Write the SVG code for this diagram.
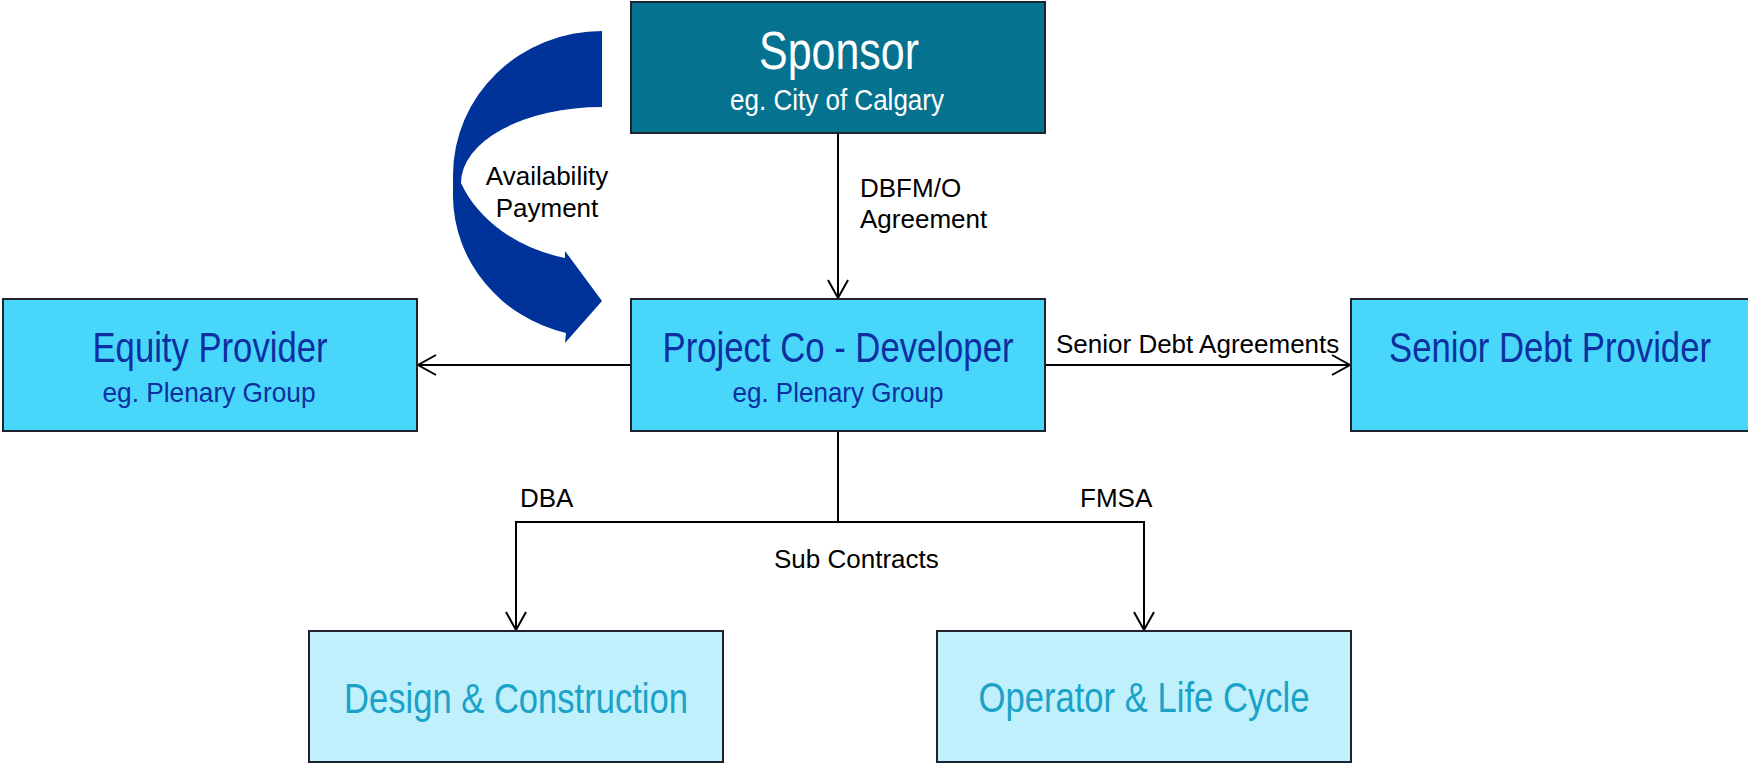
<svg xmlns="http://www.w3.org/2000/svg" width="1748" height="763" viewBox="0 0 1748 763">
<style>
.box{stroke:#1f2330;stroke-width:2}
.sponsor{fill:#05738f}
.mid{fill:#48d7fb}
.low{fill:#c0f0fc}
.t{font-family:"Liberation Sans",Arial,sans-serif;text-anchor:middle}
.tw{fill:#ffffff}
.tb{fill:#0d2f9f}
.tl{fill:#1aa2c8}
.lbl{font-family:"Liberation Sans",Arial,sans-serif;font-size:26px;fill:#000000}
.conn{stroke:#000000;stroke-width:2;fill:none}
</style>
<defs>
<marker id="arr" markerUnits="userSpaceOnUse" markerWidth="24" markerHeight="24" viewBox="-20 -12 22 24" refX="0" refY="0" orient="auto">
<path d="M -18 -10 L 0 0 L -18 10" fill="none" stroke="#000000" stroke-width="2"/>
</marker>
</defs>
<g id="payment-arrow">
<path d="M 602 31 A 149 144 0 0 0 453 175 L 453 197 A 149 142 0 0 0 566 333 L 565 343 L 602 301 L 565 251 L 565 258 A 150 120 0 0 1 461 183 A 141 76 0 0 1 602 107 Z" fill="#003399"/>
<text class="lbl" x="547" y="185" text-anchor="middle">Availability</text>
<text class="lbl" x="547" y="217" text-anchor="middle">Payment</text>
</g>
<g id="connectors">
<line class="conn" x1="838" y1="134" x2="838" y2="298" marker-end="url(#arr)"/>
<line class="conn" x1="631" y1="365" x2="418" y2="365" marker-end="url(#arr)"/>
<line class="conn" x1="1045" y1="365" x2="1350" y2="365" marker-end="url(#arr)"/>
<polyline class="conn" points="838,431 838,522 516,522 516,630" marker-end="url(#arr)"/>
<polyline class="conn" points="838,522 1144,522 1144,630" marker-end="url(#arr)"/>
<text class="lbl" x="860" y="197">DBFM/O</text>
<text class="lbl" x="860" y="228">Agreement</text>
<text class="lbl" x="1056" y="353">Senior Debt Agreements</text>
<text class="lbl" x="520" y="507">DBA</text>
<text class="lbl" x="1080" y="507">FMSA</text>
<text class="lbl" x="774" y="568">Sub Contracts</text>
</g>
<g id="sponsor">
<rect class="box sponsor" x="631" y="2" width="414" height="131"/>
<text class="t tw" x="839" y="69" font-size="53" textLength="160" lengthAdjust="spacingAndGlyphs">Sponsor</text>
<text class="t tw" x="837" y="110" font-size="29" textLength="214" lengthAdjust="spacingAndGlyphs">eg. City of Calgary</text>
</g>
<g id="equity-provider">
<rect class="box mid" x="3" y="299" width="414" height="132"/>
<text class="t tb" x="210" y="362" font-size="42" textLength="235" lengthAdjust="spacingAndGlyphs">Equity Provider</text>
<text class="t tb" x="209" y="402" font-size="28" textLength="213" lengthAdjust="spacingAndGlyphs">eg. Plenary Group</text>
</g>
<g id="project-co">
<rect class="box mid" x="631" y="299" width="414" height="132"/>
<text class="t tb" x="838" y="362" font-size="42" textLength="351" lengthAdjust="spacingAndGlyphs">Project Co - Developer</text>
<text class="t tb" x="838" y="402" font-size="28" textLength="211" lengthAdjust="spacingAndGlyphs">eg. Plenary Group</text>
</g>
<g id="senior-debt-provider">
<rect class="box mid" x="1351" y="299" width="400" height="132"/>
<text class="t tb" x="1550" y="362" font-size="42" textLength="322" lengthAdjust="spacingAndGlyphs">Senior Debt Provider</text>
</g>
<g id="design-construction">
<rect class="box low" x="309" y="631" width="414" height="131"/>
<text class="t tl" x="516" y="713" font-size="42" textLength="344" lengthAdjust="spacingAndGlyphs">Design &amp; Construction</text>
</g>
<g id="operator-life-cycle">
<rect class="box low" x="937" y="631" width="414" height="131"/>
<text class="t tl" x="1144" y="712" font-size="42" textLength="331" lengthAdjust="spacingAndGlyphs">Operator &amp; Life Cycle</text>
</g>
</svg>
